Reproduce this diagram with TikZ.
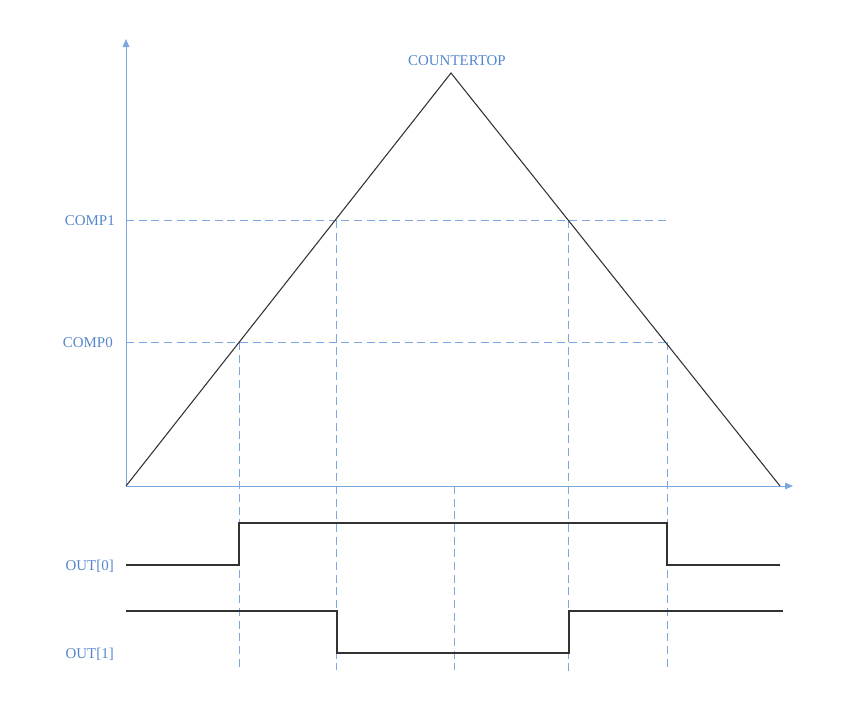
\documentclass[tikz,border=0pt]{standalone}
\usepackage{fontspec}
\setmainfont{Liberation Serif}
\usetikzlibrary{arrows.meta}
\definecolor{axisblue}{RGB}{125,168,222}
\definecolor{labelblue}{RGB}{84,134,204}
\definecolor{wave}{RGB}{50,50,50}

\begin{document}
\begin{tikzpicture}
                \tikzset{x=0.75pt, y=-0.75pt}
                \tikzstyle{axis}=[draw=axisblue, line width=0.75pt, -{Triangle[length=6pt,width=5pt]}]
                \tikzstyle{guide}=[draw=axisblue, line width=0.75pt, dash pattern=on 6pt off 3.5pt]
                \tikzstyle{lbl}=[text=labelblue, inner sep=0pt, font=\fontsize{11.2}{13}\selectfont]
                \tikzstyle{sig}=[draw=wave, line width=0.8pt]

                \useasboundingbox (0,0) rectangle (860,708);

                % axes and counter
                \coordinate (o)     at (126,486);
                \coordinate (ytip)  at (126,39);
                \coordinate (xtip)  at (793,486);
                \coordinate (top)   at (451,73);
                \coordinate (bot)   at (780,486);

                \draw (457,61)      node[lbl]   (ctop)  {COUNTERTOP};
                \draw (115,221)     node[lbl, anchor=east] (comp1) {COMP1};
                \draw (113,343)     node[lbl, anchor=east] (comp0) {COMP0};
                \draw (114,566)     node[lbl, anchor=east] (out0)  {OUT[0]};
                \draw (114,654)     node[lbl, anchor=east] (out1)  {OUT[1]};

                % crossing points
                \coordinate (a0) at (239,342);
                \coordinate (a1) at (336,220);
                \coordinate (b1) at (568,220);
                \coordinate (b0) at (667,342);
                \coordinate (mid) at (454,486);
                \coordinate (l1) at (126,220);
                \coordinate (l0) at (126,342);
                \coordinate (r1) at (667,220);

                \coordinate (a0e) at (239,670);
                \coordinate (a1e) at (336,670);
                \coordinate (mide) at (454,670);
                \coordinate (b1e) at (568,672);
                \coordinate (b0e) at (667,670);

                \draw [guide]       (l1) -- (r1);
                \draw [guide]       (l0) -- (b0);
                \draw [guide]       (a0) -- (a0e);
                \draw [guide]       (a1) -- (a1e);
                \draw [guide]       (mid) -- (mide);
                \draw [guide]       (b1) -- (b1e);
                \draw [guide]       (b0) -- (b0e);

                \draw [axis]        (o) -- (ytip);
                \draw [axis]        (o) -- (xtip);
                \draw [sig]         (o) -- (top) -- (bot);

                % outputs
                \coordinate (p0s) at (126,565);
                \coordinate (p0e) at (780,565);
                \coordinate (p1s) at (126,611);
                \coordinate (p1e) at (783,611);

                \draw [sig]         (p0s) -- (239,565) -- (239,523) -- (667,523) -- (667,565) -- (p0e);
                \draw [sig]         (p1s) -- (337,611) -- (337,653) -- (569,653) -- (569,611) -- (p1e);
            \end{tikzpicture}
\end{document}
